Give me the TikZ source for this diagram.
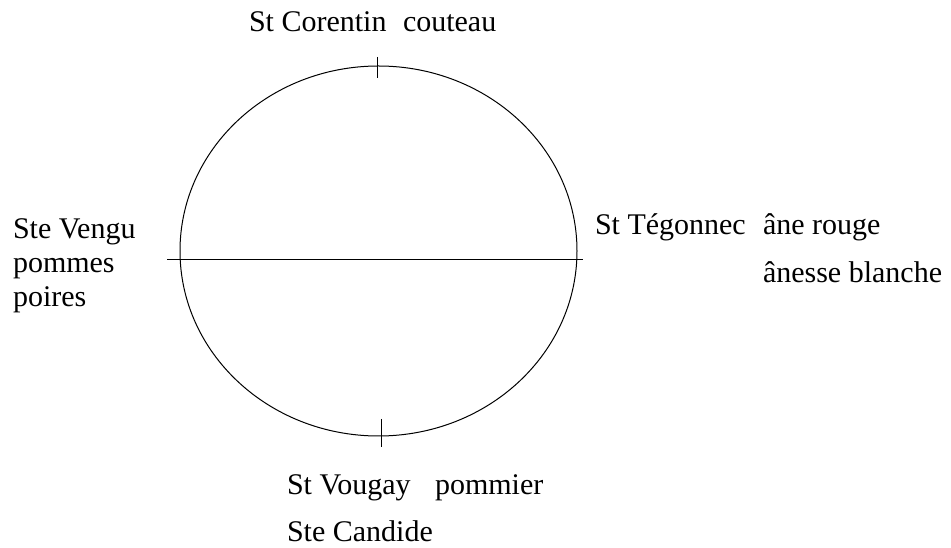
\documentclass[tikz,border=0pt]{standalone}
\usepackage{fontspec}
\setmainfont{Liberation Serif}
\usetikzlibrary{positioning}
\tikzset{
  lbl/.style  = {anchor=base west, inner sep=0pt, outer sep=0pt},
  ring/.style = {draw, line width=0.75pt},
  bar/.style  = {draw, line width=0.75pt},
}

\begin{document}
\begin{tikzpicture}[x=0.75pt, y=-0.75pt,
   font=\fontsize{22.5}{27}\selectfont]
\useasboundingbox (0,0) rectangle (951,548);
% the circle and its marks
\draw[ring] (378.5,251) ellipse [x radius=198.5, y radius=185];
\coordinate (west) at (167,260);
\coordinate (east) at (583,260);
\coordinate (ntop) at (377,57);
\coordinate (stop) at (377,78);
\coordinate (nbot) at (381,419);
\coordinate (sbot) at (381,447);
\draw[bar] (west) -- (east);
\draw[bar] (ntop) -- (stop);
\draw[bar] (nbot) -- (sbot);
% labels
\node[lbl] (corentin) at (249,32) {St Corentin};
\node[lbl] (couteau) at (403,32) {couteau};
\node[lbl] (vengu) at (13,239) {Ste Vengu};
\node[lbl] (pommes) at (13,273) {pommes};
\node[lbl] (poires) at (13,307) {poires};
\node[lbl] (tegonnec) at (595,235) {St Tégonnec};
\node[lbl] (ane) at (763,235) {âne rouge};
\node[lbl] (anesse) at (763,283) {ânesse blanche};
\node[lbl] (vougay) at (287,495) {St Vougay};
\node[lbl] (pommier) at (435,495) {pommier};
\node[lbl] (candide) at (287,542) {Ste Candide};
\end{tikzpicture}
\end{document}
